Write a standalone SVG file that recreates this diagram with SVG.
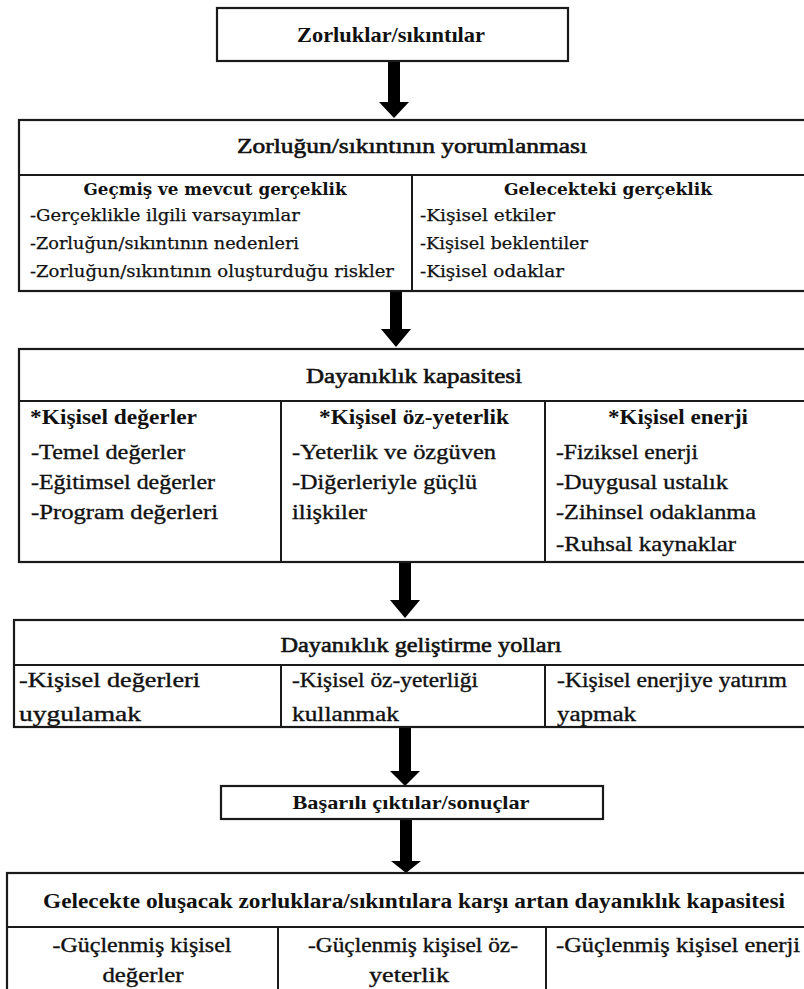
<svg xmlns="http://www.w3.org/2000/svg" width="804" height="989" viewBox="0 0 804 989">
<style>
.box{fill:#fff;stroke:#1a1a1a;stroke-width:2.2}
.ln{stroke:#1a1a1a;stroke-width:2;fill:none}
.arr{fill:#000}
text{fill:#111}
.tb{font-family:"Liberation Serif","Times New Roman",serif;font-weight:bold}
.tr{font-family:"Liberation Serif","Times New Roman",serif;stroke:#111;stroke-width:0.35}
.th{font-family:"Liberation Serif","Times New Roman",serif;stroke:#111;stroke-width:0.6}
.cb{font-family:"DejaVu Serif",serif;font-weight:bold}
.cr{font-family:"DejaVu Serif",serif;stroke:#111;stroke-width:0.25}
.m{text-anchor:middle}
</style>
<rect width="804" height="989" fill="#fff"/>
<g id="connectors">
  <rect class="arr" x="388" y="61" width="12" height="42"/>
  <polygon class="arr" points="379,102 409,102 394,118"/>
  <rect class="arr" x="390" y="291" width="12" height="39"/>
  <polygon class="arr" points="381,329 411,329 396,347"/>
  <rect class="arr" x="399" y="562" width="12" height="39"/>
  <polygon class="arr" points="390,600 420,600 405,618"/>
  <rect class="arr" x="399" y="727" width="12" height="45"/>
  <polygon class="arr" points="390,771 420,771 405,786"/>
  <rect class="arr" x="400" y="819" width="12" height="43"/>
  <polygon class="arr" points="391,861 421,861 406,873"/>
</g>
<g id="n1">
  <rect class="box" x="217" y="8" width="351" height="53"/>
  <text class="tb m" x="391" y="42" font-size="21" textLength="188" lengthAdjust="spacingAndGlyphs">Zorluklar/sıkıntılar</text>
</g>
<g id="n2">
  <rect class="box" x="19" y="120" width="792" height="171"/>
  <line class="ln" x1="19" y1="175" x2="811" y2="175"/>
  <line class="ln" x1="412" y1="175" x2="412" y2="291"/>
  <text class="th m" x="412" y="153" font-size="22" textLength="350" lengthAdjust="spacingAndGlyphs">Zorluğun/sıkıntının  yorumlanması</text>
  <text class="cb m" x="215" y="195" font-size="16.5" textLength="263" lengthAdjust="spacingAndGlyphs">Geçmiş ve mevcut gerçeklik</text>
  <text class="cr" x="30" y="221" font-size="16.5" textLength="270" lengthAdjust="spacingAndGlyphs">-Gerçeklikle ilgili varsayımlar</text>
  <text class="cr" x="30" y="249" font-size="16.5" textLength="269" lengthAdjust="spacingAndGlyphs">-Zorluğun/sıkıntının nedenleri</text>
  <text class="cr" x="30" y="277" font-size="16.5" textLength="364" lengthAdjust="spacingAndGlyphs">-Zorluğun/sıkıntının oluşturduğu riskler</text>
  <text class="cb m" x="608" y="195" font-size="16.5" textLength="208" lengthAdjust="spacingAndGlyphs">Gelecekteki gerçeklik</text>
  <text class="cr" x="420" y="221" font-size="16.5" textLength="135" lengthAdjust="spacingAndGlyphs">-Kişisel etkiler</text>
  <text class="cr" x="420" y="249" font-size="16.5" textLength="168" lengthAdjust="spacingAndGlyphs">-Kişisel beklentiler</text>
  <text class="cr" x="420" y="277" font-size="16.5" textLength="144" lengthAdjust="spacingAndGlyphs">-Kişisel odaklar</text>
</g>
<g id="n3">
  <rect class="box" x="19" y="349" width="792" height="213"/>
  <line class="ln" x1="19" y1="401" x2="811" y2="401"/>
  <line class="ln" x1="281" y1="401" x2="281" y2="562"/>
  <line class="ln" x1="545" y1="401" x2="545" y2="562"/>
  <text class="th m" x="414" y="383" font-size="22" textLength="216" lengthAdjust="spacingAndGlyphs">Dayanıklık  kapasitesi</text>
  <text class="tb" x="30" y="424" font-size="21" textLength="167" lengthAdjust="spacingAndGlyphs">*Kişisel  değerler</text>
  <text class="tb m" x="414" y="424" font-size="21" textLength="190" lengthAdjust="spacingAndGlyphs">*Kişisel  öz-yeterlik</text>
  <text class="tb m" x="678" y="424" font-size="21" textLength="140" lengthAdjust="spacingAndGlyphs">*Kişisel  enerji</text>
  <text class="tr" x="31" y="459" font-size="21" textLength="154" lengthAdjust="spacingAndGlyphs">-Temel değerler</text>
  <text class="tr" x="31" y="489" font-size="21" textLength="184" lengthAdjust="spacingAndGlyphs">-Eğitimsel değerler</text>
  <text class="tr" x="31" y="519" font-size="21" textLength="187" lengthAdjust="spacingAndGlyphs">-Program  değerleri</text>
  <text class="tr" x="292" y="459" font-size="21" textLength="204" lengthAdjust="spacingAndGlyphs">-Yeterlik ve özgüven</text>
  <text class="tr" x="292" y="489" font-size="21" textLength="185" lengthAdjust="spacingAndGlyphs">-Diğerleriyle güçlü</text>
  <text class="tr" x="292" y="519" font-size="21" textLength="75" lengthAdjust="spacingAndGlyphs">ilişkiler</text>
  <text class="tr" x="556" y="459" font-size="21" textLength="142" lengthAdjust="spacingAndGlyphs">-Fiziksel enerji</text>
  <text class="tr" x="556" y="489" font-size="21" textLength="172" lengthAdjust="spacingAndGlyphs">-Duygusal ustalık</text>
  <text class="tr" x="556" y="519" font-size="21" textLength="200" lengthAdjust="spacingAndGlyphs">-Zihinsel odaklanma</text>
  <text class="tr" x="556" y="551" font-size="21" textLength="180" lengthAdjust="spacingAndGlyphs">-Ruhsal kaynaklar</text>
</g>
<g id="n4">
  <rect class="box" x="14" y="620" width="797" height="107"/>
  <line class="ln" x1="14" y1="665" x2="811" y2="665"/>
  <line class="ln" x1="281" y1="665" x2="281" y2="727"/>
  <line class="ln" x1="545" y1="665" x2="545" y2="727"/>
  <text class="th m" x="421" y="652" font-size="22" textLength="281" lengthAdjust="spacingAndGlyphs">Dayanıklık  geliştirme yolları</text>
  <text class="tr" x="19" y="687" font-size="20" textLength="181" lengthAdjust="spacingAndGlyphs">-Kişisel değerleri</text>
  <text class="tr" x="19" y="721" font-size="20" textLength="122" lengthAdjust="spacingAndGlyphs">uygulamak</text>
  <text class="tr" x="292" y="687" font-size="20" textLength="186" lengthAdjust="spacingAndGlyphs">-Kişisel öz-yeterliği</text>
  <text class="tr" x="292" y="721" font-size="20" textLength="107" lengthAdjust="spacingAndGlyphs">kullanmak</text>
  <text class="tr" x="557" y="687" font-size="20" textLength="230" lengthAdjust="spacingAndGlyphs">-Kişisel enerjiye yatırım</text>
  <text class="tr" x="557" y="721" font-size="20" textLength="79" lengthAdjust="spacingAndGlyphs">yapmak</text>
</g>
<g id="n5">
  <rect class="box" x="221" y="786" width="382" height="33"/>
  <text class="tb m" x="411" y="809" font-size="19" textLength="237" lengthAdjust="spacingAndGlyphs">Başarılı çıktılar/sonuçlar</text>
</g>
<g id="n6">
  <rect class="box" x="7" y="873" width="804" height="130"/>
  <line class="ln" x1="7" y1="927" x2="811" y2="927"/>
  <line class="ln" x1="278" y1="927" x2="278" y2="1003"/>
  <line class="ln" x1="546" y1="927" x2="546" y2="1003"/>
  <text class="tb m" x="414" y="908" font-size="20" textLength="742" lengthAdjust="spacingAndGlyphs">Gelecekte  oluşacak  zorluklara/sıkıntılara  karşı artan dayanıklık  kapasitesi</text>
  <text class="tr m" x="142" y="952" font-size="20" textLength="179" lengthAdjust="spacingAndGlyphs">-Güçlenmiş kişisel</text>
  <text class="tr m" x="143" y="982" font-size="20" textLength="81" lengthAdjust="spacingAndGlyphs">değerler</text>
  <text class="tr m" x="413" y="952" font-size="20" textLength="210" lengthAdjust="spacingAndGlyphs">-Güçlenmiş kişisel öz-</text>
  <text class="tr m" x="409" y="982" font-size="20" textLength="80" lengthAdjust="spacingAndGlyphs">yeterlik</text>
  <text class="tr" x="556" y="952" font-size="20" textLength="244" lengthAdjust="spacingAndGlyphs">-Güçlenmiş kişisel enerji</text>
</g>
</svg>
